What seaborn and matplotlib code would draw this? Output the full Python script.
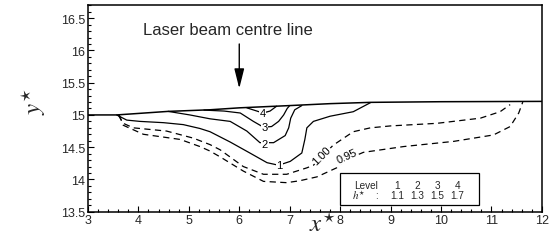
import matplotlib
matplotlib.use('Agg')
import matplotlib.pyplot as plt
from matplotlib.patches import Rectangle
from matplotlib.ticker import MultipleLocator
import seaborn as sns

# free surface of the melt pool
surface_x = [3.0, 3.57, 4.59, 5.42, 6.0, 7.0, 7.8, 8.6, 10.0, 12.0]
surface_y = [15.0, 15.0, 15.055, 15.08, 15.11, 15.145, 15.175, 15.195, 15.205, 15.21]

# solid contours, levels 1-4
level1_x = [3.57, 3.77, 4.03, 4.5, 4.89, 5.22, 5.42, 5.62, 5.82, 6.21, 6.55, 6.78, 7.01, 7.24, 7.3, 7.34, 7.47, 7.8, 8.26, 8.6]
level1_y = [15.0, 14.92, 14.9, 14.88, 14.85, 14.79, 14.74, 14.66, 14.58, 14.41, 14.26, 14.22, 14.28, 14.41, 14.62, 14.8, 14.9, 14.98, 15.05, 15.19]
level2_x = [4.59, 5.02, 5.42, 5.82, 6.15, 6.41, 6.68, 6.91, 6.98, 7.02, 7.1, 7.24]
level2_y = [15.055, 15.0, 14.94, 14.9, 14.75, 14.57, 14.57, 14.68, 14.8, 14.95, 15.08, 15.145]
level3_x = [5.3, 5.7, 6.02, 6.28, 6.48, 6.64, 6.78, 6.88, 6.95, 7.0]
level3_y = [15.075, 15.06, 15.03, 14.9, 14.81, 14.82, 14.9, 15.0, 15.1, 15.145]
level4_x = [6.15, 6.35, 6.47, 6.61, 6.74]
level4_y = [15.11, 15.06, 15.03, 15.06, 15.135]

# dashed contours
c100_x = [3.6, 3.7, 3.9, 4.56, 5.09, 5.42, 5.62, 6.08, 6.48, 6.94, 7.34, 7.47, 7.86, 8.26, 8.6, 9.0, 9.92, 10.78, 11.17, 11.37]
c100_y = [15.0, 14.87, 14.8, 14.75, 14.64, 14.54, 14.46, 14.2, 14.08, 14.08, 14.18, 14.22, 14.53, 14.74, 14.8, 14.83, 14.87, 14.95, 15.05, 15.16]
c095_x = [3.62, 3.7, 4.1, 4.83, 5.22, 5.42, 5.62, 6.08, 6.48, 6.94, 7.2, 7.54, 7.93, 8.1, 8.46, 9.26, 10.25, 11.04, 11.37, 11.54, 11.62]
c095_y = [15.0, 14.84, 14.7, 14.62, 14.51, 14.44, 14.35, 14.13, 13.97, 13.95, 13.98, 14.04, 14.18, 14.3, 14.42, 14.51, 14.59, 14.69, 14.82, 15.03, 15.2]

level_names = ['1', '2', '3', '4']
h_values = ['1.1', '1.3', '1.5', '1.7']

sns.set_theme(style='ticks')
plt.rcParams['font.family'] = ['Liberation Sans', 'DejaVu Sans']
plt.rcParams['mathtext.fontset'] = 'stix'

fig = plt.figure(figsize=(5.53, 2.51), dpi=100)
ax = fig.add_axes([0.159, 0.1526, 0.821, 0.8224])

sns.lineplot(x=surface_x, y=surface_y, sort=False, estimator=None, color='black', lw=1.1, ax=ax)
for xs, ys in [(level1_x, level1_y), (level2_x, level2_y), (level3_x, level3_y), (level4_x, level4_y)]:
    sns.lineplot(x=xs, y=ys, sort=False, estimator=None, color='black', lw=0.9, ax=ax)
for xs, ys in [(c100_x, c100_y), (c095_x, c095_y)]:
    sns.lineplot(x=xs, y=ys, sort=False, estimator=None, color='black', lw=0.9,
                 linestyle=(0, (5, 3.5)), ax=ax)

# inline contour labels
lab = dict(fontsize=8, ha='center', va='center', color='black',
           bbox=dict(facecolor='white', edgecolor='none', pad=0.3))
ax.text(6.47, 15.03, '4', **lab)
ax.text(6.5, 14.81, '3', **lab)
ax.text(6.51, 14.55, '2', **lab)
ax.text(6.79, 14.22, '1', **lab)
ax.text(7.64, 14.37, '1.00', rotation=45, **lab)
ax.text(8.14, 14.36, '0.95', rotation=25, **lab)

# laser beam annotation
ax.text(5.78, 16.33, 'Laser beam centre line', fontsize=12, ha='center', va='center')
ax.annotate('', xy=(6, 15.41), xytext=(6, 16.1),
            arrowprops=dict(arrowstyle='-|>,head_length=1.2,head_width=0.3',
                            color='black', lw=1, mutation_scale=10, shrinkA=0, shrinkB=0))

# level table
ax.add_patch(Rectangle((7.99, 13.605), 2.76, 0.495, facecolor='white', edgecolor='black', lw=0.9, zorder=3))
tab = dict(fontsize=7.2, ha='center', va='center', zorder=4)
ax.text(8.52, 13.92, 'Level', **tab)
ax.text(8.38, 13.765, r'$h^{\star}$', fontsize=8, ha='center', va='center', zorder=4)
ax.text(8.73, 13.76, ':', **tab)
for i, (n, h) in enumerate(zip(level_names, h_values)):
    ax.text(9.125 + 0.4 * i, 13.92, n, **tab)
    ax.text(9.125 + 0.4 * i, 13.76, h, **tab)

ax.set_xlim(3, 12)
ax.set_ylim(13.5, 16.7)
ax.xaxis.set_major_locator(MultipleLocator(1))
ax.xaxis.set_minor_locator(MultipleLocator(0.2))
ax.yaxis.set_minor_locator(MultipleLocator(0.1))
ax.set_yticks([13.5, 14, 14.5, 15, 15.5, 16, 16.5])
ax.set_yticklabels(['13.5', '14', '14.5', '15', '15.5', '16', '16.5'])
ax.tick_params(which='both', direction='in', labelsize=9, color='black', width=0.8, pad=2)
ax.tick_params(which='major', length=4)
ax.tick_params(which='minor', length=2)
for s in ax.spines.values():
    s.set_linewidth(1.1)
    s.set_color('black')

ax.set_xlabel(r'$x^{\star}$', fontsize=18)
ax.xaxis.set_label_coords(0.516, 0.0)
ax.set_ylabel(r'$y^{\star}$', fontsize=18)
ax.yaxis.set_label_coords(-0.088, 0.54)

fig.savefig('out.png', dpi=100)
